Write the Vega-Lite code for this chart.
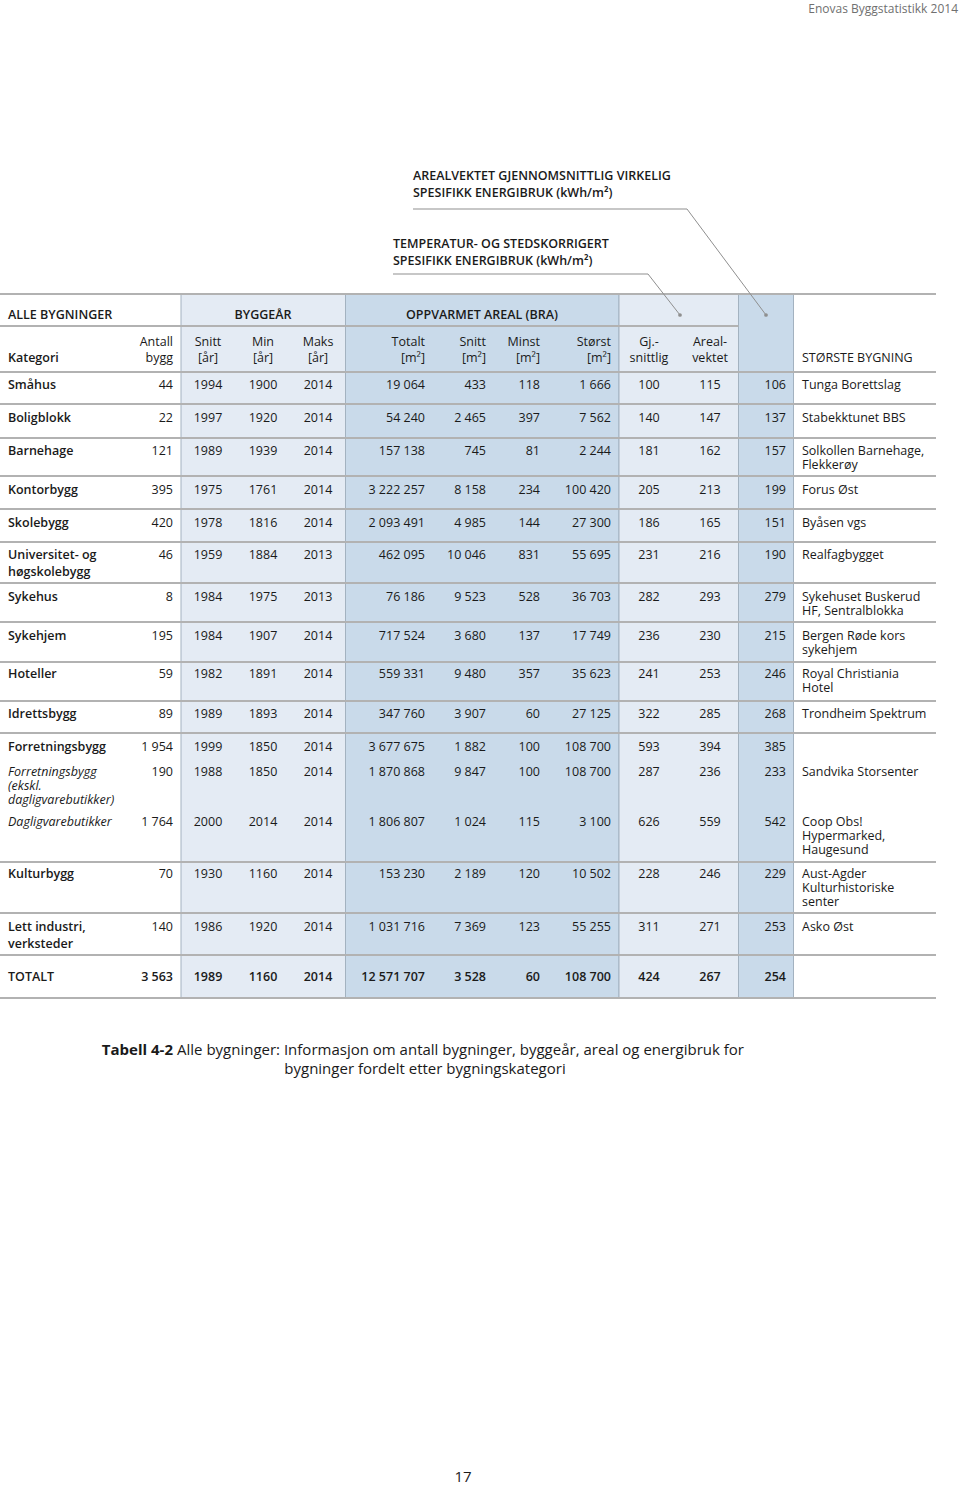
{
  "$schema": "https://vega.github.io/schema/vega-lite/v6.json",
  "width": 960,
  "height": 1486,
  "autosize": {"type": "none"},
  "padding": 0,
  "background": "white",
  "config": {
    "view": {"stroke": null},
    "text": {"font": "Open Sans", "color": "#1a1a1a"},
    "locale": {"number": {"decimal": ",", "thousands": " ", "grouping": [3], "currency": ["", ""]}}
  },
  "datasets": {
    "rader": [
      {"r": 11, "kat": "Småhus", "lvl": "main", "antall": 44, "snitt_aar": 1994, "min_aar": 1900, "maks_aar": 2014, "totalt": 19064, "snitt_m2": 433, "minst": 118, "storst": 1666, "gj": 100, "arealv": 115, "korr": 106, "bygning": "Tunga Borettslag"},
      {"r": 13, "kat": "Boligblokk", "lvl": "main", "antall": 22, "snitt_aar": 1997, "min_aar": 1920, "maks_aar": 2014, "totalt": 54240, "snitt_m2": 2465, "minst": 397, "storst": 7562, "gj": 140, "arealv": 147, "korr": 137, "bygning": "Stabekktunet BBS"},
      {"r": 15, "kat": "Barnehage", "lvl": "main", "antall": 121, "snitt_aar": 1989, "min_aar": 1939, "maks_aar": 2014, "totalt": 157138, "snitt_m2": 745, "minst": 81, "storst": 2244, "gj": 181, "arealv": 162, "korr": 157, "bygning": "Solkollen Barnehage,\nFlekkerøy"},
      {"r": 17, "kat": "Kontorbygg", "lvl": "main", "antall": 395, "snitt_aar": 1975, "min_aar": 1761, "maks_aar": 2014, "totalt": 3222257, "snitt_m2": 8158, "minst": 234, "storst": 100420, "gj": 205, "arealv": 213, "korr": 199, "bygning": "Forus Øst"},
      {"r": 19, "kat": "Skolebygg", "lvl": "main", "antall": 420, "snitt_aar": 1978, "min_aar": 1816, "maks_aar": 2014, "totalt": 2093491, "snitt_m2": 4985, "minst": 144, "storst": 27300, "gj": 186, "arealv": 165, "korr": 151, "bygning": "Byåsen vgs"},
      {"r": 21, "kat": "Universitet- og\nhøgskolebygg", "lvl": "main", "antall": 46, "snitt_aar": 1959, "min_aar": 1884, "maks_aar": 2013, "totalt": 462095, "snitt_m2": 10046, "minst": 831, "storst": 55695, "gj": 231, "arealv": 216, "korr": 190, "bygning": "Realfagbygget"},
      {"r": 23, "kat": "Sykehus", "lvl": "main", "antall": 8, "snitt_aar": 1984, "min_aar": 1975, "maks_aar": 2013, "totalt": 76186, "snitt_m2": 9523, "minst": 528, "storst": 36703, "gj": 282, "arealv": 293, "korr": 279, "bygning": "Sykehuset Buskerud\nHF, Sentralblokka"},
      {"r": 25, "kat": "Sykehjem", "lvl": "main", "antall": 195, "snitt_aar": 1984, "min_aar": 1907, "maks_aar": 2014, "totalt": 717524, "snitt_m2": 3680, "minst": 137, "storst": 17749, "gj": 236, "arealv": 230, "korr": 215, "bygning": "Bergen Røde kors\nsykehjem"},
      {"r": 27, "kat": "Hoteller", "lvl": "main", "antall": 59, "snitt_aar": 1982, "min_aar": 1891, "maks_aar": 2014, "totalt": 559331, "snitt_m2": 9480, "minst": 357, "storst": 35623, "gj": 241, "arealv": 253, "korr": 246, "bygning": "Royal Christiania\nHotel"},
      {"r": 29, "kat": "Idrettsbygg", "lvl": "main", "antall": 89, "snitt_aar": 1989, "min_aar": 1893, "maks_aar": 2014, "totalt": 347760, "snitt_m2": 3907, "minst": 60, "storst": 27125, "gj": 322, "arealv": 285, "korr": 268, "bygning": "Trondheim Spektrum"},
      {"r": 31, "kat": "Forretningsbygg", "lvl": "main", "antall": 1954, "snitt_aar": 1999, "min_aar": 1850, "maks_aar": 2014, "totalt": 3677675, "snitt_m2": 1882, "minst": 100, "storst": 108700, "gj": 593, "arealv": 394, "korr": 385, "bygning": ""},
      {"r": 32, "kat": "Forretningsbygg\n(ekskl.\ndagligvarebutikker)", "lvl": "sub", "antall": 190, "snitt_aar": 1988, "min_aar": 1850, "maks_aar": 2014, "totalt": 1870868, "snitt_m2": 9847, "minst": 100, "storst": 108700, "gj": 287, "arealv": 236, "korr": 233, "bygning": "Sandvika Storsenter"},
      {"r": 33, "kat": "Dagligvarebutikker", "lvl": "sub", "antall": 1764, "snitt_aar": 2000, "min_aar": 2014, "maks_aar": 2014, "totalt": 1806807, "snitt_m2": 1024, "minst": 115, "storst": 3100, "gj": 626, "arealv": 559, "korr": 542, "bygning": "Coop Obs!\nHypermarked,\nHaugesund"},
      {"r": 35, "kat": "Kulturbygg", "lvl": "main", "antall": 70, "snitt_aar": 1930, "min_aar": 1160, "maks_aar": 2014, "totalt": 153230, "snitt_m2": 2189, "minst": 120, "storst": 10502, "gj": 228, "arealv": 246, "korr": 229, "bygning": "Aust-Agder\nKulturhistoriske\nsenter"},
      {"r": 37, "kat": "Lett industri,\nverksteder", "lvl": "main", "antall": 140, "snitt_aar": 1986, "min_aar": 1920, "maks_aar": 2014, "totalt": 1031716, "snitt_m2": 7369, "minst": 123, "storst": 55255, "gj": 311, "arealv": 271, "korr": 253, "bygning": "Asko Øst"},
      {"r": 39, "kat": "TOTALT", "lvl": "total", "antall": 3563, "snitt_aar": 1989, "min_aar": 1160, "maks_aar": 2014, "totalt": 12571707, "snitt_m2": 3528, "minst": 60, "storst": 108700, "gj": 424, "arealv": 267, "korr": 254, "bygning": ""}
    ],
    "kolonner": [
      {"key": "kat", "c": 1},
      {"key": "antall", "c": 2},
      {"key": "snitt_aar", "c": 4},
      {"key": "min_aar", "c": 5},
      {"key": "maks_aar", "c": 6},
      {"key": "totalt", "c": 10},
      {"key": "snitt_m2", "c": 13},
      {"key": "minst", "c": 14},
      {"key": "storst", "c": 15},
      {"key": "gj", "c": 18},
      {"key": "arealv", "c": 21},
      {"key": "korr", "c": 24},
      {"key": "bygning", "c": 26}
    ],
    "tekster": [
      {"r": 0, "c": 28, "t": "Enovas Byggstatistikk 2014", "k": "page"},
      {"r": 1, "c": 9, "t": "AREALVEKTET GJENNOMSNITTLIG VIRKELIG\nSPESIFIKK ENERGIBRUK (kWh/m²)", "k": "note"},
      {"r": 3, "c": 8, "t": "TEMPERATUR- OG STEDSKORRIGERT\nSPESIFIKK ENERGIBRUK (kWh/m²)", "k": "note"},
      {"r": 6, "c": 1, "t": "ALLE BYGNINGER", "k": "group_left"},
      {"r": 6, "c": 5, "t": "BYGGEÅR", "k": "group"},
      {"r": 6, "c": 12, "t": "OPPVARMET AREAL (BRA)", "k": "group"},
      {"r": 8, "c": 2, "t": "Antall", "k": "right"},
      {"r": 9, "c": 2, "t": "bygg", "k": "right"},
      {"r": 8, "c": 4, "t": "Snitt", "k": "center"},
      {"r": 9, "c": 4, "t": "[år]", "k": "center"},
      {"r": 8, "c": 5, "t": "Min", "k": "center"},
      {"r": 9, "c": 5, "t": "[år]", "k": "center"},
      {"r": 8, "c": 6, "t": "Maks", "k": "center"},
      {"r": 9, "c": 6, "t": "[år]", "k": "center"},
      {"r": 8, "c": 10, "t": "Totalt", "k": "right"},
      {"r": 9, "c": 10, "t": "[m²]", "k": "right"},
      {"r": 8, "c": 13, "t": "Snitt", "k": "right"},
      {"r": 9, "c": 13, "t": "[m²]", "k": "right"},
      {"r": 8, "c": 14, "t": "Minst", "k": "right"},
      {"r": 9, "c": 14, "t": "[m²]", "k": "right"},
      {"r": 8, "c": 15, "t": "Størst", "k": "right"},
      {"r": 9, "c": 15, "t": "[m²]", "k": "right"},
      {"r": 8, "c": 18, "t": "Gj.-", "k": "center"},
      {"r": 9, "c": 18, "t": "snittlig", "k": "center"},
      {"r": 8, "c": 21, "t": "Areal-", "k": "center"},
      {"r": 9, "c": 21, "t": "vektet", "k": "center"},
      {"r": 9, "c": 1, "t": "Kategori", "k": "left_bold"},
      {"r": 9, "c": 26, "t": "STØRSTE BYGNING", "k": "left"},
      {"r": 41, "c": 2, "t": "Tabell 4-2", "k": "caption_bold"},
      {"r": 41, "c": 2, "t": "Alle bygninger: Informasjon om antall bygninger, byggeår, areal og energibruk for", "k": "caption"},
      {"r": 42, "c": 10, "t": "bygninger fordelt etter bygningskategori", "k": "caption_center"},
      {"r": 43, "c": 11, "t": "17", "k": "pagenum"}
    ],
    "felt": [
      {"navn": "Byggeår", "c1": 3, "c2": 7, "r1": 5, "r2": 40, "shade": "lys"},
      {"navn": "Oppvarmet areal", "c1": 7, "c2": 16, "r1": 5, "r2": 40, "shade": "mørk"},
      {"navn": "Spesifikk energibruk", "c1": 16, "c2": 22, "r1": 5, "r2": 40, "shade": "lys"},
      {"navn": "Korrigert", "c1": 22, "c2": 25, "r1": 5, "r2": 40, "shade": "mørk"}
    ],
    "linjer": [
      {"r": 5, "c1": 0, "c2": 27}, {"r": 7, "c1": 0, "c2": 22}, {"r": 10, "c1": 0, "c2": 27}, {"r": 12, "c1": 0, "c2": 27},
      {"r": 14, "c1": 0, "c2": 27}, {"r": 16, "c1": 0, "c2": 27}, {"r": 18, "c1": 0, "c2": 27}, {"r": 20, "c1": 0, "c2": 27},
      {"r": 22, "c1": 0, "c2": 27}, {"r": 24, "c1": 0, "c2": 27}, {"r": 26, "c1": 0, "c2": 27}, {"r": 28, "c1": 0, "c2": 27},
      {"r": 30, "c1": 0, "c2": 27}, {"r": 34, "c1": 0, "c2": 27}, {"r": 36, "c1": 0, "c2": 27}, {"r": 38, "c1": 0, "c2": 27},
      {"r": 40, "c1": 0, "c2": 27}
    ],
    "ledere": [
      {"note": "A", "o": 1, "c": 9, "r": 2, "end": false},
      {"note": "A", "o": 2, "c": 20, "r": 2, "end": false},
      {"note": "A", "o": 3, "c": 23, "r": 6, "end": true},
      {"note": "B", "o": 1, "c": 8, "r": 4, "end": false},
      {"note": "B", "o": 2, "c": 17, "r": 4, "end": false},
      {"note": "B", "o": 3, "c": 19, "r": 6, "end": true}
    ]
  },
  "layer": [
    {
      "data": {"name": "felt"},
      "mark": {"type": "rect", "stroke": "#a3b2c0", "strokeWidth": 1},
      "encoding": {
        "x": {"field": "c1", "type": "quantitative", "axis": null, "scale": {"type": "linear", "nice": false, "zero": false, "domain": [0,1,2,3,4,5,6,7,8,9,10,11,12,13,14,15,16,17,18,19,20,21,22,23,24,25,26,27,28], "range": [0,8,173,181,208,263,318,345.5,393,413,425,463,482,486,540,611,619,648,649,680,687,710,738.5,766,786,793.5,802,936,958]}},
        "x2": {"field": "c2"},
        "y": {"field": "r1", "type": "quantitative", "axis": null, "scale": {"type": "linear", "nice": false, "zero": false, "domain": [0,1,2,3,4,5,6,7,8,9,10,11,12,13,14,15,16,17,18,19,20,21,22,23,24,25,26,27,28,29,30,31,32,33,34,35,36,37,38,39,40,41,42,43], "range": [9,176,209,244,274,294,315,326,342,358,372,385,404,418,438,451,476,490,509,523,542,555,583,597,622,636,662,674,701,714,733,747,772,822,862,874,913,927,955,977,998,1050,1069,1477]}},
        "y2": {"field": "r2"},
        "color": {"field": "shade", "type": "nominal", "legend": null, "scale": {"domain": ["lys", "mørk"], "range": ["#e4ebf4", "#c9daea"]}}
      }
    },
    {
      "data": {"name": "linjer"},
      "mark": {"type": "rule", "color": "#b2b2b2", "strokeWidth": 2},
      "encoding": {
        "x": {"field": "c1", "type": "quantitative", "axis": null, "scale": {"type": "linear", "nice": false, "zero": false, "domain": [0,1,2,3,4,5,6,7,8,9,10,11,12,13,14,15,16,17,18,19,20,21,22,23,24,25,26,27,28], "range": [0,8,173,181,208,263,318,345.5,393,413,425,463,482,486,540,611,619,648,649,680,687,710,738.5,766,786,793.5,802,936,958]}},
        "x2": {"field": "c2"},
        "y": {"field": "r", "type": "quantitative", "axis": null, "scale": {"type": "linear", "nice": false, "zero": false, "domain": [0,1,2,3,4,5,6,7,8,9,10,11,12,13,14,15,16,17,18,19,20,21,22,23,24,25,26,27,28,29,30,31,32,33,34,35,36,37,38,39,40,41,42,43], "range": [9,176,209,244,274,294,315,326,342,358,372,385,404,418,438,451,476,490,509,523,542,555,583,597,622,636,662,674,701,714,733,747,772,822,862,874,913,927,955,977,998,1050,1069,1477]}}
      }
    },
    {
      "data": {"name": "ledere"},
      "mark": {"type": "line", "color": "#8f8f8f", "strokeWidth": 1},
      "encoding": {
        "x": {"field": "c", "type": "quantitative", "axis": null, "scale": {"type": "linear", "nice": false, "zero": false, "domain": [0,1,2,3,4,5,6,7,8,9,10,11,12,13,14,15,16,17,18,19,20,21,22,23,24,25,26,27,28], "range": [0,8,173,181,208,263,318,345.5,393,413,425,463,482,486,540,611,619,648,649,680,687,710,738.5,766,786,793.5,802,936,958]}},
        "y": {"field": "r", "type": "quantitative", "axis": null, "scale": {"type": "linear", "nice": false, "zero": false, "domain": [0,1,2,3,4,5,6,7,8,9,10,11,12,13,14,15,16,17,18,19,20,21,22,23,24,25,26,27,28,29,30,31,32,33,34,35,36,37,38,39,40,41,42,43], "range": [9,176,209,244,274,294,315,326,342,358,372,385,404,418,438,451,476,490,509,523,542,555,583,597,622,636,662,674,701,714,733,747,772,822,862,874,913,927,955,977,998,1050,1069,1477]}},
        "detail": {"field": "note", "type": "nominal"},
        "order": {"field": "o", "type": "quantitative"}
      }
    },
    {
      "data": {"name": "ledere"},
      "transform": [{"filter": "datum.end"}],
      "mark": {"type": "circle", "color": "#8f8f8f", "size": 14, "opacity": 1},
      "encoding": {
        "x": {"field": "c", "type": "quantitative", "axis": null, "scale": {"type": "linear", "nice": false, "zero": false, "domain": [0,1,2,3,4,5,6,7,8,9,10,11,12,13,14,15,16,17,18,19,20,21,22,23,24,25,26,27,28], "range": [0,8,173,181,208,263,318,345.5,393,413,425,463,482,486,540,611,619,648,649,680,687,710,738.5,766,786,793.5,802,936,958]}},
        "y": {"field": "r", "type": "quantitative", "axis": null, "scale": {"type": "linear", "nice": false, "zero": false, "domain": [0,1,2,3,4,5,6,7,8,9,10,11,12,13,14,15,16,17,18,19,20,21,22,23,24,25,26,27,28,29,30,31,32,33,34,35,36,37,38,39,40,41,42,43], "range": [9,176,209,244,274,294,315,326,342,358,372,385,404,418,438,451,476,490,509,523,542,555,583,597,622,636,662,674,701,714,733,747,772,822,862,874,913,927,955,977,998,1050,1069,1477]}}
      }
    },
    {
      "data": {"name": "tekster"},
      "transform": [{"filter": "datum.k == 'page'"}],
      "mark": {"type": "text", "align": "right", "baseline": "alphabetic", "dy": 4, "fontSize": 12, "color": "#707070"},
      "encoding": {
        "x": {"field": "c", "type": "quantitative", "axis": null, "scale": {"type": "linear", "nice": false, "zero": false, "domain": [0,1,2,3,4,5,6,7,8,9,10,11,12,13,14,15,16,17,18,19,20,21,22,23,24,25,26,27,28], "range": [0,8,173,181,208,263,318,345.5,393,413,425,463,482,486,540,611,619,648,649,680,687,710,738.5,766,786,793.5,802,936,958]}},
        "y": {"field": "r", "type": "quantitative", "axis": null, "scale": {"type": "linear", "nice": false, "zero": false, "domain": [0,1,2,3,4,5,6,7,8,9,10,11,12,13,14,15,16,17,18,19,20,21,22,23,24,25,26,27,28,29,30,31,32,33,34,35,36,37,38,39,40,41,42,43], "range": [9,176,209,244,274,294,315,326,342,358,372,385,404,418,438,451,476,490,509,523,542,555,583,597,622,636,662,674,701,714,733,747,772,822,862,874,913,927,955,977,998,1050,1069,1477]}},
        "text": {"field": "t", "type": "nominal"}
      }
    },
    {
      "data": {"name": "tekster"},
      "transform": [{"filter": "datum.k == 'note'"}],
      "mark": {"type": "text", "align": "left", "baseline": "alphabetic", "dy": 4, "fontSize": 12.5, "fontWeight": 600, "lineBreak": "\n", "lineHeight": 16.5},
      "encoding": {
        "x": {"field": "c", "type": "quantitative", "axis": null, "scale": {"type": "linear", "nice": false, "zero": false, "domain": [0,1,2,3,4,5,6,7,8,9,10,11,12,13,14,15,16,17,18,19,20,21,22,23,24,25,26,27,28], "range": [0,8,173,181,208,263,318,345.5,393,413,425,463,482,486,540,611,619,648,649,680,687,710,738.5,766,786,793.5,802,936,958]}},
        "y": {"field": "r", "type": "quantitative", "axis": null, "scale": {"type": "linear", "nice": false, "zero": false, "domain": [0,1,2,3,4,5,6,7,8,9,10,11,12,13,14,15,16,17,18,19,20,21,22,23,24,25,26,27,28,29,30,31,32,33,34,35,36,37,38,39,40,41,42,43], "range": [9,176,209,244,274,294,315,326,342,358,372,385,404,418,438,451,476,490,509,523,542,555,583,597,622,636,662,674,701,714,733,747,772,822,862,874,913,927,955,977,998,1050,1069,1477]}},
        "text": {"field": "t", "type": "nominal"}
      }
    },
    {
      "data": {"name": "tekster"},
      "transform": [{"filter": "datum.k == 'group'"}],
      "mark": {"type": "text", "align": "center", "baseline": "alphabetic", "dy": 4, "fontSize": 12.5, "fontWeight": 600},
      "encoding": {
        "x": {"field": "c", "type": "quantitative", "axis": null, "scale": {"type": "linear", "nice": false, "zero": false, "domain": [0,1,2,3,4,5,6,7,8,9,10,11,12,13,14,15,16,17,18,19,20,21,22,23,24,25,26,27,28], "range": [0,8,173,181,208,263,318,345.5,393,413,425,463,482,486,540,611,619,648,649,680,687,710,738.5,766,786,793.5,802,936,958]}},
        "y": {"field": "r", "type": "quantitative", "axis": null, "scale": {"type": "linear", "nice": false, "zero": false, "domain": [0,1,2,3,4,5,6,7,8,9,10,11,12,13,14,15,16,17,18,19,20,21,22,23,24,25,26,27,28,29,30,31,32,33,34,35,36,37,38,39,40,41,42,43], "range": [9,176,209,244,274,294,315,326,342,358,372,385,404,418,438,451,476,490,509,523,542,555,583,597,622,636,662,674,701,714,733,747,772,822,862,874,913,927,955,977,998,1050,1069,1477]}},
        "text": {"field": "t", "type": "nominal"}
      }
    },
    {
      "data": {"name": "tekster"},
      "transform": [{"filter": "datum.k == 'group_left'"}],
      "mark": {"type": "text", "align": "left", "baseline": "alphabetic", "dy": 4, "fontSize": 12.5, "fontWeight": 600},
      "encoding": {
        "x": {"field": "c", "type": "quantitative", "axis": null, "scale": {"type": "linear", "nice": false, "zero": false, "domain": [0,1,2,3,4,5,6,7,8,9,10,11,12,13,14,15,16,17,18,19,20,21,22,23,24,25,26,27,28], "range": [0,8,173,181,208,263,318,345.5,393,413,425,463,482,486,540,611,619,648,649,680,687,710,738.5,766,786,793.5,802,936,958]}},
        "y": {"field": "r", "type": "quantitative", "axis": null, "scale": {"type": "linear", "nice": false, "zero": false, "domain": [0,1,2,3,4,5,6,7,8,9,10,11,12,13,14,15,16,17,18,19,20,21,22,23,24,25,26,27,28,29,30,31,32,33,34,35,36,37,38,39,40,41,42,43], "range": [9,176,209,244,274,294,315,326,342,358,372,385,404,418,438,451,476,490,509,523,542,555,583,597,622,636,662,674,701,714,733,747,772,822,862,874,913,927,955,977,998,1050,1069,1477]}},
        "text": {"field": "t", "type": "nominal"}
      }
    },
    {
      "data": {"name": "tekster"},
      "transform": [{"filter": "datum.k == 'left_bold'"}],
      "mark": {"type": "text", "align": "left", "baseline": "alphabetic", "dy": 4, "fontSize": 12.5, "fontWeight": 600},
      "encoding": {
        "x": {"field": "c", "type": "quantitative", "axis": null, "scale": {"type": "linear", "nice": false, "zero": false, "domain": [0,1,2,3,4,5,6,7,8,9,10,11,12,13,14,15,16,17,18,19,20,21,22,23,24,25,26,27,28], "range": [0,8,173,181,208,263,318,345.5,393,413,425,463,482,486,540,611,619,648,649,680,687,710,738.5,766,786,793.5,802,936,958]}},
        "y": {"field": "r", "type": "quantitative", "axis": null, "scale": {"type": "linear", "nice": false, "zero": false, "domain": [0,1,2,3,4,5,6,7,8,9,10,11,12,13,14,15,16,17,18,19,20,21,22,23,24,25,26,27,28,29,30,31,32,33,34,35,36,37,38,39,40,41,42,43], "range": [9,176,209,244,274,294,315,326,342,358,372,385,404,418,438,451,476,490,509,523,542,555,583,597,622,636,662,674,701,714,733,747,772,822,862,874,913,927,955,977,998,1050,1069,1477]}},
        "text": {"field": "t", "type": "nominal"}
      }
    },
    {
      "data": {"name": "tekster"},
      "transform": [{"filter": "datum.k == 'right'"}],
      "mark": {"type": "text", "align": "right", "baseline": "alphabetic", "dy": 4, "fontSize": 12.5},
      "encoding": {
        "x": {"field": "c", "type": "quantitative", "axis": null, "scale": {"type": "linear", "nice": false, "zero": false, "domain": [0,1,2,3,4,5,6,7,8,9,10,11,12,13,14,15,16,17,18,19,20,21,22,23,24,25,26,27,28], "range": [0,8,173,181,208,263,318,345.5,393,413,425,463,482,486,540,611,619,648,649,680,687,710,738.5,766,786,793.5,802,936,958]}},
        "y": {"field": "r", "type": "quantitative", "axis": null, "scale": {"type": "linear", "nice": false, "zero": false, "domain": [0,1,2,3,4,5,6,7,8,9,10,11,12,13,14,15,16,17,18,19,20,21,22,23,24,25,26,27,28,29,30,31,32,33,34,35,36,37,38,39,40,41,42,43], "range": [9,176,209,244,274,294,315,326,342,358,372,385,404,418,438,451,476,490,509,523,542,555,583,597,622,636,662,674,701,714,733,747,772,822,862,874,913,927,955,977,998,1050,1069,1477]}},
        "text": {"field": "t", "type": "nominal"}
      }
    },
    {
      "data": {"name": "tekster"},
      "transform": [{"filter": "datum.k == 'center'"}],
      "mark": {"type": "text", "align": "center", "baseline": "alphabetic", "dy": 4, "fontSize": 12.5},
      "encoding": {
        "x": {"field": "c", "type": "quantitative", "axis": null, "scale": {"type": "linear", "nice": false, "zero": false, "domain": [0,1,2,3,4,5,6,7,8,9,10,11,12,13,14,15,16,17,18,19,20,21,22,23,24,25,26,27,28], "range": [0,8,173,181,208,263,318,345.5,393,413,425,463,482,486,540,611,619,648,649,680,687,710,738.5,766,786,793.5,802,936,958]}},
        "y": {"field": "r", "type": "quantitative", "axis": null, "scale": {"type": "linear", "nice": false, "zero": false, "domain": [0,1,2,3,4,5,6,7,8,9,10,11,12,13,14,15,16,17,18,19,20,21,22,23,24,25,26,27,28,29,30,31,32,33,34,35,36,37,38,39,40,41,42,43], "range": [9,176,209,244,274,294,315,326,342,358,372,385,404,418,438,451,476,490,509,523,542,555,583,597,622,636,662,674,701,714,733,747,772,822,862,874,913,927,955,977,998,1050,1069,1477]}},
        "text": {"field": "t", "type": "nominal"}
      }
    },
    {
      "data": {"name": "tekster"},
      "transform": [{"filter": "datum.k == 'left'"}],
      "mark": {"type": "text", "align": "left", "baseline": "alphabetic", "dy": 4, "fontSize": 12.5},
      "encoding": {
        "x": {"field": "c", "type": "quantitative", "axis": null, "scale": {"type": "linear", "nice": false, "zero": false, "domain": [0,1,2,3,4,5,6,7,8,9,10,11,12,13,14,15,16,17,18,19,20,21,22,23,24,25,26,27,28], "range": [0,8,173,181,208,263,318,345.5,393,413,425,463,482,486,540,611,619,648,649,680,687,710,738.5,766,786,793.5,802,936,958]}},
        "y": {"field": "r", "type": "quantitative", "axis": null, "scale": {"type": "linear", "nice": false, "zero": false, "domain": [0,1,2,3,4,5,6,7,8,9,10,11,12,13,14,15,16,17,18,19,20,21,22,23,24,25,26,27,28,29,30,31,32,33,34,35,36,37,38,39,40,41,42,43], "range": [9,176,209,244,274,294,315,326,342,358,372,385,404,418,438,451,476,490,509,523,542,555,583,597,622,636,662,674,701,714,733,747,772,822,862,874,913,927,955,977,998,1050,1069,1477]}},
        "text": {"field": "t", "type": "nominal"}
      }
    },
    {
      "data": {"name": "tekster"},
      "transform": [{"filter": "datum.k == 'caption_bold'"}],
      "mark": {"type": "text", "align": "right", "baseline": "alphabetic", "dy": 5, "fontSize": 15, "fontWeight": "bold"},
      "encoding": {
        "x": {"field": "c", "type": "quantitative", "axis": null, "scale": {"type": "linear", "nice": false, "zero": false, "domain": [0,1,2,3,4,5,6,7,8,9,10,11,12,13,14,15,16,17,18,19,20,21,22,23,24,25,26,27,28], "range": [0,8,173,181,208,263,318,345.5,393,413,425,463,482,486,540,611,619,648,649,680,687,710,738.5,766,786,793.5,802,936,958]}},
        "y": {"field": "r", "type": "quantitative", "axis": null, "scale": {"type": "linear", "nice": false, "zero": false, "domain": [0,1,2,3,4,5,6,7,8,9,10,11,12,13,14,15,16,17,18,19,20,21,22,23,24,25,26,27,28,29,30,31,32,33,34,35,36,37,38,39,40,41,42,43], "range": [9,176,209,244,274,294,315,326,342,358,372,385,404,418,438,451,476,490,509,523,542,555,583,597,622,636,662,674,701,714,733,747,772,822,862,874,913,927,955,977,998,1050,1069,1477]}},
        "text": {"field": "t", "type": "nominal"}
      }
    },
    {
      "data": {"name": "tekster"},
      "transform": [{"filter": "datum.k == 'caption'"}],
      "mark": {"type": "text", "align": "left", "baseline": "alphabetic", "dx": 4, "dy": 5, "fontSize": 15},
      "encoding": {
        "x": {"field": "c", "type": "quantitative", "axis": null, "scale": {"type": "linear", "nice": false, "zero": false, "domain": [0,1,2,3,4,5,6,7,8,9,10,11,12,13,14,15,16,17,18,19,20,21,22,23,24,25,26,27,28], "range": [0,8,173,181,208,263,318,345.5,393,413,425,463,482,486,540,611,619,648,649,680,687,710,738.5,766,786,793.5,802,936,958]}},
        "y": {"field": "r", "type": "quantitative", "axis": null, "scale": {"type": "linear", "nice": false, "zero": false, "domain": [0,1,2,3,4,5,6,7,8,9,10,11,12,13,14,15,16,17,18,19,20,21,22,23,24,25,26,27,28,29,30,31,32,33,34,35,36,37,38,39,40,41,42,43], "range": [9,176,209,244,274,294,315,326,342,358,372,385,404,418,438,451,476,490,509,523,542,555,583,597,622,636,662,674,701,714,733,747,772,822,862,874,913,927,955,977,998,1050,1069,1477]}},
        "text": {"field": "t", "type": "nominal"}
      }
    },
    {
      "data": {"name": "tekster"},
      "transform": [{"filter": "datum.k == 'caption_center' || datum.k == 'pagenum'"}],
      "mark": {"type": "text", "align": "center", "baseline": "alphabetic", "dy": 5, "fontSize": 15},
      "encoding": {
        "x": {"field": "c", "type": "quantitative", "axis": null, "scale": {"type": "linear", "nice": false, "zero": false, "domain": [0,1,2,3,4,5,6,7,8,9,10,11,12,13,14,15,16,17,18,19,20,21,22,23,24,25,26,27,28], "range": [0,8,173,181,208,263,318,345.5,393,413,425,463,482,486,540,611,619,648,649,680,687,710,738.5,766,786,793.5,802,936,958]}},
        "y": {"field": "r", "type": "quantitative", "axis": null, "scale": {"type": "linear", "nice": false, "zero": false, "domain": [0,1,2,3,4,5,6,7,8,9,10,11,12,13,14,15,16,17,18,19,20,21,22,23,24,25,26,27,28,29,30,31,32,33,34,35,36,37,38,39,40,41,42,43], "range": [9,176,209,244,274,294,315,326,342,358,372,385,404,418,438,451,476,490,509,523,542,555,583,597,622,636,662,674,701,714,733,747,772,822,862,874,913,927,955,977,998,1050,1069,1477]}},
        "text": {"field": "t", "type": "nominal"}
      }
    },
    {
      "data": {"name": "rader"},
      "transform": [
        {"fold": ["kat"], "as": ["key", "val"]},
        {"lookup": "key", "from": {"data": {"name": "kolonner"}, "key": "key", "fields": ["c"]}}
      ],
      "mark": {"type": "text", "align": "left", "baseline": "alphabetic", "dy": 4, "fontSize": 12.5, "lineBreak": "\n",
        "fontWeight": {"expr": "datum.lvl == 'sub' ? 'normal' : 600"},
        "fontStyle": {"expr": "datum.lvl == 'sub' ? 'italic' : 'normal'"},
        "lineHeight": {"expr": "datum.lvl == 'sub' ? 14 : 16.5"}},
      "encoding": {
        "x": {"field": "c", "type": "quantitative", "axis": null, "scale": {"type": "linear", "nice": false, "zero": false, "domain": [0,1,2,3,4,5,6,7,8,9,10,11,12,13,14,15,16,17,18,19,20,21,22,23,24,25,26,27,28], "range": [0,8,173,181,208,263,318,345.5,393,413,425,463,482,486,540,611,619,648,649,680,687,710,738.5,766,786,793.5,802,936,958]}},
        "y": {"field": "r", "type": "quantitative", "axis": null, "scale": {"type": "linear", "nice": false, "zero": false, "domain": [0,1,2,3,4,5,6,7,8,9,10,11,12,13,14,15,16,17,18,19,20,21,22,23,24,25,26,27,28,29,30,31,32,33,34,35,36,37,38,39,40,41,42,43], "range": [9,176,209,244,274,294,315,326,342,358,372,385,404,418,438,451,476,490,509,523,542,555,583,597,622,636,662,674,701,714,733,747,772,822,862,874,913,927,955,977,998,1050,1069,1477]}},
        "text": {"field": "val", "type": "nominal"}
      }
    },
    {
      "data": {"name": "rader"},
      "transform": [
        {"fold": ["snitt_aar", "min_aar", "maks_aar", "gj", "arealv"], "as": ["key", "val"]},
        {"lookup": "key", "from": {"data": {"name": "kolonner"}, "key": "key", "fields": ["c"]}}
      ],
      "mark": {"type": "text", "align": "center", "baseline": "alphabetic", "dy": 4, "fontSize": 12.5,
        "fontWeight": {"expr": "datum.lvl == 'total' ? 600 : 'normal'"}},
      "encoding": {
        "x": {"field": "c", "type": "quantitative", "axis": null, "scale": {"type": "linear", "nice": false, "zero": false, "domain": [0,1,2,3,4,5,6,7,8,9,10,11,12,13,14,15,16,17,18,19,20,21,22,23,24,25,26,27,28], "range": [0,8,173,181,208,263,318,345.5,393,413,425,463,482,486,540,611,619,648,649,680,687,710,738.5,766,786,793.5,802,936,958]}},
        "y": {"field": "r", "type": "quantitative", "axis": null, "scale": {"type": "linear", "nice": false, "zero": false, "domain": [0,1,2,3,4,5,6,7,8,9,10,11,12,13,14,15,16,17,18,19,20,21,22,23,24,25,26,27,28,29,30,31,32,33,34,35,36,37,38,39,40,41,42,43], "range": [9,176,209,244,274,294,315,326,342,358,372,385,404,418,438,451,476,490,509,523,542,555,583,597,622,636,662,674,701,714,733,747,772,822,862,874,913,927,955,977,998,1050,1069,1477]}},
        "text": {"field": "val", "type": "quantitative", "format": "d"}
      }
    },
    {
      "data": {"name": "rader"},
      "transform": [
        {"fold": ["antall", "totalt", "snitt_m2", "minst", "storst", "korr"], "as": ["key", "val"]},
        {"lookup": "key", "from": {"data": {"name": "kolonner"}, "key": "key", "fields": ["c"]}}
      ],
      "mark": {"type": "text", "align": "right", "baseline": "alphabetic", "dy": 4, "fontSize": 12.5,
        "fontWeight": {"expr": "datum.lvl == 'total' ? 600 : 'normal'"}},
      "encoding": {
        "x": {"field": "c", "type": "quantitative", "axis": null, "scale": {"type": "linear", "nice": false, "zero": false, "domain": [0,1,2,3,4,5,6,7,8,9,10,11,12,13,14,15,16,17,18,19,20,21,22,23,24,25,26,27,28], "range": [0,8,173,181,208,263,318,345.5,393,413,425,463,482,486,540,611,619,648,649,680,687,710,738.5,766,786,793.5,802,936,958]}},
        "y": {"field": "r", "type": "quantitative", "axis": null, "scale": {"type": "linear", "nice": false, "zero": false, "domain": [0,1,2,3,4,5,6,7,8,9,10,11,12,13,14,15,16,17,18,19,20,21,22,23,24,25,26,27,28,29,30,31,32,33,34,35,36,37,38,39,40,41,42,43], "range": [9,176,209,244,274,294,315,326,342,358,372,385,404,418,438,451,476,490,509,523,542,555,583,597,622,636,662,674,701,714,733,747,772,822,862,874,913,927,955,977,998,1050,1069,1477]}},
        "text": {"field": "val", "type": "quantitative", "format": ",d"}
      }
    },
    {
      "data": {"name": "rader"},
      "transform": [
        {"fold": ["bygning"], "as": ["key", "val"]},
        {"lookup": "key", "from": {"data": {"name": "kolonner"}, "key": "key", "fields": ["c"]}}
      ],
      "mark": {"type": "text", "align": "left", "baseline": "alphabetic", "dy": 4, "fontSize": 12.5, "lineBreak": "\n", "lineHeight": 14},
      "encoding": {
        "x": {"field": "c", "type": "quantitative", "axis": null, "scale": {"type": "linear", "nice": false, "zero": false, "domain": [0,1,2,3,4,5,6,7,8,9,10,11,12,13,14,15,16,17,18,19,20,21,22,23,24,25,26,27,28], "range": [0,8,173,181,208,263,318,345.5,393,413,425,463,482,486,540,611,619,648,649,680,687,710,738.5,766,786,793.5,802,936,958]}},
        "y": {"field": "r", "type": "quantitative", "axis": null, "scale": {"type": "linear", "nice": false, "zero": false, "domain": [0,1,2,3,4,5,6,7,8,9,10,11,12,13,14,15,16,17,18,19,20,21,22,23,24,25,26,27,28,29,30,31,32,33,34,35,36,37,38,39,40,41,42,43], "range": [9,176,209,244,274,294,315,326,342,358,372,385,404,418,438,451,476,490,509,523,542,555,583,597,622,636,662,674,701,714,733,747,772,822,862,874,913,927,955,977,998,1050,1069,1477]}},
        "text": {"field": "val", "type": "nominal"}
      }
    }
  ]
}
